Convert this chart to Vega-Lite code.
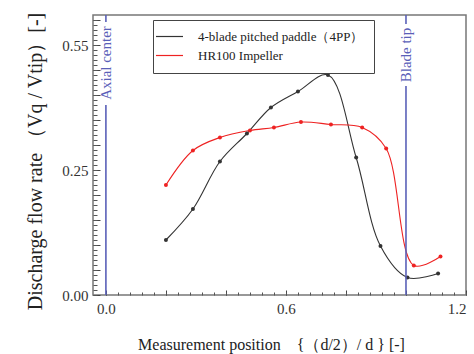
{
  "$schema": "https://vega.github.io/schema/vega-lite/v6.json",
  "width": 373,
  "height": 280,
  "autosize": "none",
  "padding": {"left": 93, "top": 15, "right": 8, "bottom": 59},
  "background": "white",
  "config": {
    "view": {"stroke": "#777777", "strokeWidth": 1.5},
    "font": "Liberation Serif",
    "axis": {"grid": false, "domain": false}
  },
  "datasets": {
    "flow": [
      {"impeller": "4-blade pitched paddle（4PP）", "pos": 0.2, "q": 0.11},
      {"impeller": "4-blade pitched paddle（4PP）", "pos": 0.29, "q": 0.172},
      {"impeller": "4-blade pitched paddle（4PP）", "pos": 0.38, "q": 0.267},
      {"impeller": "4-blade pitched paddle（4PP）", "pos": 0.47, "q": 0.323},
      {"impeller": "4-blade pitched paddle（4PP）", "pos": 0.55, "q": 0.375},
      {"impeller": "4-blade pitched paddle（4PP）", "pos": 0.64, "q": 0.407},
      {"impeller": "4-blade pitched paddle（4PP）", "pos": 0.74, "q": 0.44},
      {"impeller": "4-blade pitched paddle（4PP）", "pos": 0.834, "q": 0.275},
      {"impeller": "4-blade pitched paddle（4PP）", "pos": 0.915, "q": 0.098},
      {"impeller": "4-blade pitched paddle（4PP）", "pos": 1.005, "q": 0.035},
      {"impeller": "4-blade pitched paddle（4PP）", "pos": 1.107, "q": 0.043},
      {"impeller": "HR100 Impeller", "pos": 0.2, "q": 0.22},
      {"impeller": "HR100 Impeller", "pos": 0.29, "q": 0.289},
      {"impeller": "HR100 Impeller", "pos": 0.38, "q": 0.315},
      {"impeller": "HR100 Impeller", "pos": 0.48, "q": 0.329},
      {"impeller": "HR100 Impeller", "pos": 0.56, "q": 0.335},
      {"impeller": "HR100 Impeller", "pos": 0.65, "q": 0.346},
      {"impeller": "HR100 Impeller", "pos": 0.75, "q": 0.341},
      {"impeller": "HR100 Impeller", "pos": 0.854, "q": 0.335},
      {"impeller": "HR100 Impeller", "pos": 0.934, "q": 0.293},
      {"impeller": "HR100 Impeller", "pos": 1.026, "q": 0.059},
      {"impeller": "HR100 Impeller", "pos": 1.115, "q": 0.077}
    ],
    "guides": [
      {"pos": 0, "from": 0, "to": 0.38},
      {"pos": 0, "from": 0.546, "to": 0.56},
      {"pos": 1, "from": 0, "to": 0.418},
      {"pos": 1, "from": 0.542, "to": 0.56}
    ],
    "guideLabels": [
      {"pos": 0, "q": 0.464, "label": "Axial center"},
      {"pos": 1, "q": 0.48, "label": "Blade tip"}
    ]
  },
  "layer": [
    {
      "data": {"name": "flow"},
      "mark": {"type": "line", "interpolate": "catmull-rom", "strokeWidth": 1.1},
      "encoding": {
        "x": {
          "field": "pos", "type": "quantitative",
          "scale": {"domain": [-0.043, 1.2], "nice": false, "zero": false},
          "axis": {
            "orient": "bottom",
            "values": [0, 0.2, 0.4, 0.6, 0.8, 1.0, 1.2],
            "labelExpr": "abs(datum.value) < 0.001 || abs(datum.value - 0.6) < 0.001 || abs(datum.value - 1.2) < 0.001 ? format(datum.value, '.1f') : ''",
            "labelOverlap": false,
            "labelFont": "Liberation Serif",
            "labelFontSize": 15,
            "labelColor": "#333333",
            "labelPadding": 11,
            "tickSize": -5,
            "tickColor": "#444444",
            "title": "Measurement position　{（d/2）/ d } [-]",
            "titleFont": "Liberation Serif",
            "titleFontSize": 16,
            "titleFontWeight": "normal",
            "titleColor": "#222222",
            "titleX": 178,
            "titleY": 49,
            "titleBaseline": "middle",
            "titleAlign": "center"
          }
        },
        "y": {
          "field": "q", "type": "quantitative",
          "scale": {"domain": [0, 0.56], "nice": false},
          "axis": {
            "orient": "left",
            "values": [0, 0.05, 0.1, 0.15, 0.2, 0.25, 0.3, 0.35, 0.4, 0.45, 0.5, 0.55],
            "labelExpr": "abs(datum.value) < 0.001 ? '0.00' : abs(datum.value - 0.25) < 0.001 ? '0.25' : abs(datum.value - 0.5) < 0.001 ? '0.55' : ''",
            "labelOverlap": false,
            "labelFont": "Liberation Serif",
            "labelFontSize": 15,
            "labelColor": "#333333",
            "labelPadding": 12,
            "tickSize": -7,
            "tickColor": "#444444",
            "title": "Discharge flow rate （Vq / Vtip）[-]",
            "titleFont": "Liberation Serif",
            "titleFontSize": 20,
            "titleFontWeight": "normal",
            "titleColor": "#222222",
            "titleAngle": -90,
            "titleX": -58,
            "titleY": 146,
            "titleBaseline": "middle",
            "titleAlign": "center"
          }
        },
        "color": {
          "field": "impeller", "type": "nominal",
          "scale": {"domain": ["4-blade pitched paddle（4PP）", "HR100 Impeller"], "range": ["#333333", "#ee2222"]},
          "legend": {
            "orient": "none",
            "legendX": 60,
            "legendY": 5,
            "direction": "vertical",
            "title": null,
            "symbolType": "M-3,0H3",
            "symbolSize": 81,
            "symbolStrokeWidth": 1.2,
            "labelFontSize": 13,
            "labelFont": "Liberation Serif",
            "labelColor": "#222222",
            "labelOffset": 22,
            "labelLimit": 300,
            "padding": 10,
            "rowPadding": 5,
            "strokeColor": "#444444",
            "fillColor": "white"
          }
        }
      }
    },
    {
      "data": {"name": "flow"},
      "mark": {"type": "circle", "size": 16, "opacity": 1},
      "encoding": {
        "x": {
          "field": "pos", "type": "quantitative",
          "axis": {
            "orient": "bottom",
            "values": [0, 0.04, 0.08, 0.12, 0.16, 0.2, 0.24, 0.28, 0.32, 0.36, 0.4, 0.44, 0.48, 0.52, 0.56, 0.6, 0.64, 0.68, 0.72, 0.76, 0.8, 0.84, 0.88, 0.92, 0.96, 1.0, 1.04, 1.08, 1.12, 1.16, 1.2],
            "labels": false,
            "title": null,
            "tickSize": -3,
            "tickColor": "#555555"
          }
        },
        "y": {
          "field": "q", "type": "quantitative",
          "axis": {
            "orient": "left",
            "values": [0, 0.01, 0.02, 0.03, 0.04, 0.05, 0.06, 0.07, 0.08, 0.09, 0.1, 0.11, 0.12, 0.13, 0.14, 0.15, 0.16, 0.17, 0.18, 0.19, 0.2, 0.21, 0.22, 0.23, 0.24, 0.25, 0.26, 0.27, 0.28, 0.29, 0.3, 0.31, 0.32, 0.33, 0.34, 0.35, 0.36, 0.37, 0.38, 0.39, 0.4, 0.41, 0.42, 0.43, 0.44, 0.45, 0.46, 0.47, 0.48, 0.49, 0.5, 0.51, 0.52, 0.53, 0.54, 0.55],
            "labels": false,
            "title": null,
            "tickSize": -4,
            "tickColor": "#555555"
          }
        },
        "color": {"field": "impeller", "type": "nominal", "legend": null}
      }
    },
    {
      "data": {"name": "guides"},
      "mark": {"type": "rule", "color": "#5a60b8", "strokeWidth": 1.6},
      "encoding": {
        "x": {"field": "pos", "type": "quantitative", "axis": null},
        "y": {"field": "from", "type": "quantitative", "axis": null},
        "y2": {"field": "to"}
      }
    },
    {
      "data": {"name": "guideLabels"},
      "mark": {"type": "text", "angle": 270, "align": "center", "baseline": "middle", "fontSize": 15, "font": "Liberation Serif", "color": "#5a60b8"},
      "encoding": {
        "x": {"field": "pos", "type": "quantitative", "axis": null},
        "y": {"field": "q", "type": "quantitative", "axis": null},
        "text": {"field": "label"}
      }
    }
  ],
  "resolve": {
    "axis": {"x": "independent", "y": "independent"},
    "legend": {"color": "independent"}
  }
}
